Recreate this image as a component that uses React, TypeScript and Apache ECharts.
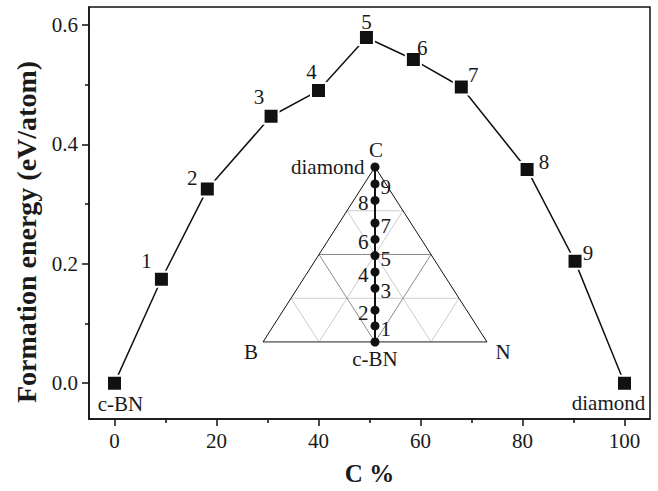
import React, { useEffect, useRef } from 'react';
import * as echarts from 'echarts';

const cPercent = [0, 9.2, 18.2, 30.7, 40, 49.4, 58.6, 68, 80.9, 90.3, 100];
const formationEnergy = [0, 0.174, 0.325, 0.447, 0.49, 0.579, 0.542, 0.496, 0.358, 0.204, 0];
const pointNames = ['c-BN', '1', '2', '3', '4', '5', '6', '7', '8', '9', 'diamond'];
const xMajorTicks = [0, 20, 40, 60, 80, 100];
const xMinorTicks = [10, 30, 50, 70, 90];
const yMajorTicks = [0, 0.2, 0.4, 0.6];
const yMinorTicks = [0.1, 0.3, 0.5];
const vertexNames = ['B', 'N', 'C'];
const vertexCoords = [[0, 0], [1, 0], [0.5, 100]];
const ternaryFractions = [0.25, 0.5, 0.75];

const mainLabelOffsets = [
  [6, 21], [-15, -18], [-15, -11], [-12, -19], [-7, -19], [0, -15],
  [9, -12], [12, -12], [17, -7], [13, -8], [-16, 20],
];
const vertexLabelOffsets = [[-12, 10], [16, 10], [1, -17]];

const SERIF = '"Liberation Serif", "Times New Roman", serif';
const TXT = '#1a1a1a';

function seg(a: number[], b: number[]) {
  return [[a[0], a[1] * 100], [b[0], b[1] * 100]];
}

function ternaryLines(isMedium: boolean) {
  const out: number[][][] = [];
  ternaryFractions.forEach((t) => {
    const med = t === 0.5;
    if (med !== isMedium) return;
    out.push(seg([t / 2, t], [1 - t / 2, t]));
    out.push(seg([t, 0], [t + (1 - t) / 2, 1 - t]));
    out.push(seg([t, 0], [t / 2, t]));
  });
  return out;
}

export default function App() {
  const ref = useRef<HTMLDivElement>(null);
  useEffect(() => {
    if (!ref.current) return;
    const chart = echarts.init(ref.current, undefined, { renderer: 'svg' });
    const axisLineStyle = { color: '#111', width: 1.5 };
    const labelBase = { fontFamily: SERIF, fontSize: 21, color: TXT };

    const lightSeries = ternaryLines(false).map((d) => ({
      type: 'line', xAxisIndex: 2, yAxisIndex: 2, data: d, symbol: 'none',
      lineStyle: { color: '#cccccc', width: 1 }, silent: true, z: 1,
    }));
    const medSeries = ternaryLines(true).map((d) => ({
      type: 'line', xAxisIndex: 2, yAxisIndex: 2, data: d, symbol: 'none',
      lineStyle: { color: '#8c8c8c', width: 1 }, silent: true, z: 1,
    }));

    const insetLabelPos = pointNames.map((_, i) => {
      if (i === 0) return { position: 'bottom', distance: 2, offset: [0, 0] };
      if (i === pointNames.length - 1) return { position: 'left', distance: 6, offset: [0, 0] };
      return i % 2 === 1
        ? { position: 'right', distance: 1, offset: [0, 3] }
        : { position: 'left', distance: 2, offset: [0, 3] };
    });

    chart.setOption({
      animation: false,
      backgroundColor: '#ffffff',
      grid: [
        { left: 89, top: 7, right: 8, bottom: 71, show: true, borderColor: '#111', borderWidth: 1.5 },
        { left: 263, top: 167, width: 224, height: 175 },
      ],
      xAxis: [
        {
          type: 'value', gridIndex: 0, min: -5, max: 105, position: 'bottom',
          axisLine: { show: true, onZero: false, lineStyle: axisLineStyle },
          axisTick: { show: true, inside: false, length: 7, customValues: xMajorTicks, lineStyle: axisLineStyle },
          axisLabel: { show: true, customValues: xMajorTicks, margin: 11, ...labelBase },
          splitLine: { show: false },
          name: 'C %', nameLocation: 'middle', nameGap: 42,
          nameTextStyle: { fontFamily: SERIF, fontSize: 25, fontWeight: 'bold', color: TXT },
        },
        {
          type: 'value', gridIndex: 0, min: -5, max: 105, position: 'bottom',
          axisLine: { show: false, onZero: false },
          axisTick: { show: true, inside: false, length: 4, customValues: xMinorTicks, lineStyle: axisLineStyle },
          axisLabel: { show: false },
          splitLine: { show: false },
        },
        { type: 'value', gridIndex: 1, min: 0, max: 1, show: false, axisLine: { onZero: false } },
      ],
      yAxis: [
        {
          type: 'value', gridIndex: 0, min: -0.06, max: 0.63, position: 'left',
          axisLine: { show: true, onZero: false, lineStyle: axisLineStyle },
          axisTick: { show: true, inside: false, length: 7, customValues: yMajorTicks, lineStyle: axisLineStyle },
          axisLabel: { show: true, customValues: yMajorTicks, margin: 11, formatter: (v: number) => v.toFixed(1), ...labelBase },
          splitLine: { show: false },
        },
        {
          type: 'value', gridIndex: 0, min: -0.06, max: 0.63, position: 'left',
          axisLine: { show: false, onZero: false },
          axisTick: { show: true, inside: false, length: 4, customValues: yMinorTicks, lineStyle: axisLineStyle },
          axisLabel: { show: false },
          splitLine: { show: false },
        },
        { type: 'value', gridIndex: 1, min: 0, max: 100, show: false, axisLine: { onZero: false } },
      ],
      graphic: [
        {
          type: 'text', x: 26, y: 232, rotation: Math.PI / 2,
          style: {
            text: 'Formation energy (eV/atom)', fill: TXT,
            font: `bold 28px ${SERIF}`, textAlign: 'center', textVerticalAlign: 'middle',
          },
        },
      ],
      series: [
        ...lightSeries,
        ...medSeries,
        {
          type: 'line', xAxisIndex: 2, yAxisIndex: 2, symbol: 'none', silent: true, z: 2,
          data: [[0, 0], [1, 0]], lineStyle: { color: '#555', width: 1.5 },
        },
        {
          type: 'line', xAxisIndex: 2, yAxisIndex: 2, symbol: 'none', silent: true, z: 2,
          data: [vertexCoords[0], vertexCoords[2], vertexCoords[1]], lineStyle: { color: '#111', width: 1 },
        },
        {
          type: 'line', xAxisIndex: 2, yAxisIndex: 2, symbol: 'circle', symbolSize: 9, z: 3,
          lineStyle: { color: '#111', width: 2 }, itemStyle: { color: '#111' },
          data: cPercent.map((c, i) => ({
            value: [0.5, c], name: pointNames[i],
            label: insetLabelPos[i],
          })),
          label: { show: true, formatter: '{b}', ...labelBase },
        },
        {
          type: 'scatter', xAxisIndex: 2, yAxisIndex: 2, symbolSize: 0, z: 3,
          itemStyle: { color: '#111', opacity: 1 },
          data: vertexCoords.map((v, i) => ({
            value: v, name: vertexNames[i],
            label: { offset: vertexLabelOffsets[i] },
          })),
          label: { show: true, position: 'inside', formatter: '{b}', ...labelBase, opacity: 1 },
        },
        {
          type: 'line', xAxisIndex: 0, yAxisIndex: 0, symbol: 'rect', symbolSize: 15, z: 5,
          lineStyle: { color: '#111', width: 1.5 },
          itemStyle: { color: '#111', borderColor: '#fff', borderWidth: 2 },
          data: cPercent.map((c, i) => ({
            value: [c, formationEnergy[i]], name: pointNames[i],
            label: { offset: mainLabelOffsets[i] },
          })),
          label: { show: true, position: 'inside', formatter: '{b}', ...labelBase },
        },
      ],
    });
    return () => chart.dispose();
  }, []);
  return <div ref={ref} style={{ position: 'absolute', left: 0, top: 0, width: 658, height: 491 }} />;
}
